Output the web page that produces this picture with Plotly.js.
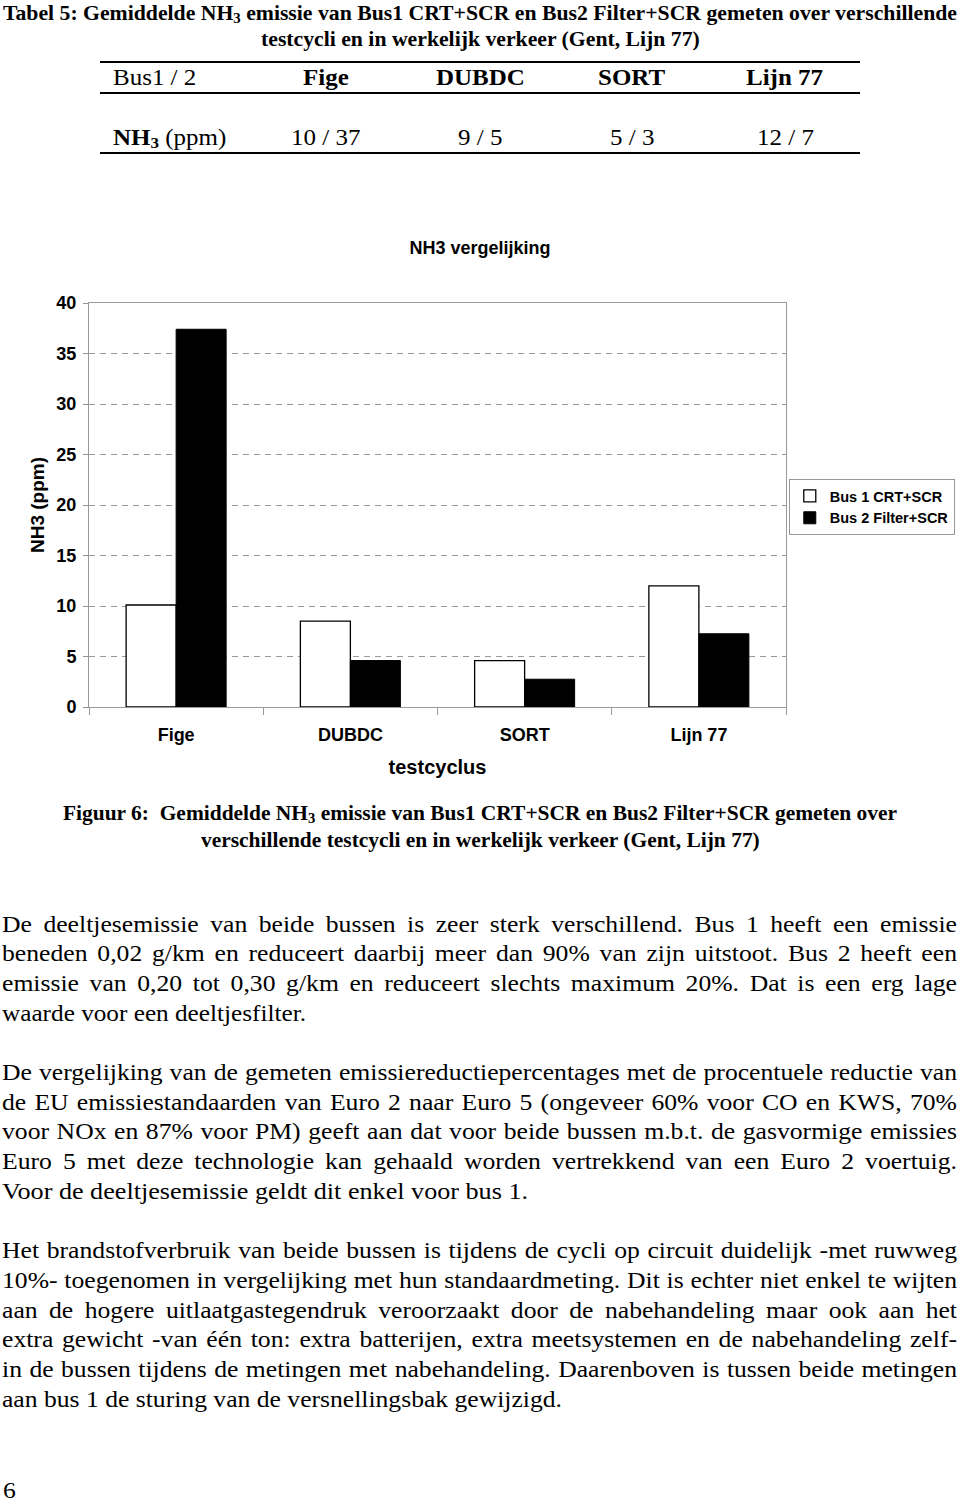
<!DOCTYPE html>
<html><head><meta charset="utf-8">
<script src="https://cdn.plot.ly/plotly-3.0.1.min.js"></script>
<style>
html,body{margin:0;padding:0;background:#fff;}
#page{position:relative;width:960px;height:1504px;overflow:hidden;background:#fff;}
.ln{position:absolute;white-space:nowrap;font-family:"Liberation Serif","Times New Roman",serif;color:#000;line-height:1;transform-origin:0 0;}
.sb{font-size:0.68em;position:relative;top:0.22em;}
.rule{position:absolute;height:2px;background:#000;}
#chart{position:absolute;left:0;top:215px;width:960px;height:580px;}
</style></head><body><div id="page"><div id="chart"></div></div>
<script>
// ---- chart data ----
const categories = ["Fige", "DUBDC", "SORT", "Lijn 77"];
const bus1 = [10.1, 8.5, 4.6, 12.0];
const bus2 = [37.4, 4.6, 2.75, 7.25];
const seriesNames = ["Bus 1 CRT+SCR", "Bus 2 Filter+SCR"];
const chartTitle = "NH3 vergelijking";
const xTitle = "testcyclus";
const yTitle = "NH3 (ppm)";
const yTicks = [0, 5, 10, 15, 20, 25, 30, 35, 40];
// ---- table data ----
const tableHeader = ["Bus1 / 2", "Fige", "DUBDC", "SORT", "Lijn 77"];
const tableRowLabel = "<b>NH<span class='sb'>3</span></b> (ppm)";
const tableValues = ["10 / 37", "9 / 5", "5 / 3", "12 / 7"];
// ---- document text ----
const tableTitle = ["Tabel 5: Gemiddelde NH<span class='sb'>3</span> emissie van Bus1 CRT+SCR en Bus2 Filter+SCR gemeten over verschillende",
  "testcycli en in werkelijk verkeer (Gent, Lijn 77)"];
const caption = ["Figuur 6:&nbsp; Gemiddelde NH<span class='sb'>3</span> emissie van Bus1 CRT+SCR en Bus2 Filter+SCR gemeten over",
  "verschillende testcycli en in werkelijk verkeer (Gent, Lijn 77)"];
const para1 = ["De deeltjesemissie van beide bussen is zeer sterk verschillend. Bus 1 heeft een emissie",
  "beneden 0,02 g/km en reduceert daarbij meer dan 90% van zijn uitstoot. Bus 2 heeft een",
  "emissie van 0,20 tot 0,30 g/km en reduceert slechts maximum 20%. Dat is een erg lage",
  "waarde voor een deeltjesfilter."];
const para2 = ["De vergelijking van de gemeten emissiereductiepercentages met de procentuele reductie van",
  "de EU emissiestandaarden van Euro 2 naar Euro 5 (ongeveer 60% voor CO en KWS, 70%",
  "voor NOx en 87% voor PM) geeft aan dat voor beide bussen m.b.t. de gasvormige emissies",
  "Euro 5 met deze technologie kan gehaald worden vertrekkend van een Euro 2 voertuig.",
  "Voor de deeltjesemissie geldt dit enkel voor bus 1."];
const para3 = ["Het brandstofverbruik van beide bussen is tijdens de cycli op circuit duidelijk -met ruwweg",
  "10%- toegenomen in vergelijking met hun standaardmeting. Dit is echter niet enkel te wijten",
  "aan de hogere uitlaatgastegendruk veroorzaakt door de nabehandeling maar ook aan het",
  "extra gewicht -van één ton: extra batterijen, extra meetsystemen en de nabehandeling zelf-",
  "in de bussen tijdens de metingen met nabehandeling. Daarenboven is tussen beide metingen",
  "aan bus 1 de sturing van de versnellingsbak gewijzigd."];
const pageNumber = "6";

const page = document.getElementById('page');
function addLine(html, o) {
  const d = document.createElement('div');
  d.className = 'ln';
  d.style.fontSize = o.F + 'px';
  if (o.bold) d.style.fontWeight = 'bold';
  d.innerHTML = html + '<span style="display:inline-block;width:0;height:0"></span>';
  page.appendChild(d);
  const nat = d.getBoundingClientRect().width;
  let S = o.S || 1.11;
  if (o.x1 !== undefined) S = (o.x1 - o.x) / nat;
  if (o.W !== undefined) {
    const n = (d.textContent.match(/ /g) || []).length;
    if (n > 0) d.style.wordSpacing = ((o.W / S - nat) / n) + 'px';
  }
  let left = o.x;
  if (o.cx !== undefined) left = o.cx - nat * S / 2;
  d.style.left = left + 'px';
  d.style.transform = 'scaleX(' + S + ')';
  const b = d.lastChild.offsetTop;
  d.style.top = (o.base - b) + 'px';
  return S;
}
function addRule(x0, x1, y) {
  const r = document.createElement('div');
  r.className = 'rule';
  r.style.left = x0 + 'px'; r.style.width = (x1 - x0) + 'px'; r.style.top = (y - 1) + 'px';
  page.appendChild(r);
}

// table title
const sT = addLine(tableTitle[0], {x: 3, x1: 957, base: 20, F: 20, bold: true});
addLine(tableTitle[1], {cx: 480, base: 46, F: 20, bold: true, S: sT});
// table
addRule(100, 860, 62); addRule(100, 860, 93); addRule(100, 860, 153);
const colCenters = [326, 480, 632, 785];
addLine(tableHeader[0], {x: 113, base: 85, F: 23, S: sT});
tableHeader.slice(1).forEach((t, i) => addLine(t, {cx: colCenters[i], base: 85, F: 23, bold: true, S: sT}));
addLine(tableRowLabel, {x: 113, base: 145, F: 23, S: sT});
tableValues.forEach((t, i) => addLine(t, {cx: colCenters[i], base: 145, F: 23, S: sT}));
// caption
const sC = addLine(caption[0], {x: 63, x1: 897, base: 820, F: 20, bold: true});
addLine(caption[1], {cx: 480, base: 847, F: 20, bold: true, S: sC});
// body paragraphs
const F = 23.5, pitch = 29.7;
const lastEnds = [306, 528, 562];
const paras = [para1, para2, para3];
const starts = [931.7, 1080, 1258.3];
const sList = paras.map((p, k) => addLine(p[p.length - 1], {x: 2, x1: lastEnds[k], base: starts[k] + pitch * (p.length - 1), F: F}));
const sB = sList.reduce((a, b) => a + b, 0) / sList.length;
paras.forEach((p, k) => p.slice(0, -1).forEach((t, i) => addLine(t, {x: 2, W: 955, base: starts[k] + pitch * i, F: F, S: sB})));
addLine(pageNumber, {x: 3, base: 1498, F: F, S: sB});

// ---- chart ----
const FONT = 'Arial, "Liberation Sans", Helvetica, sans-serif';
const traces = [
  {type: 'bar', name: seriesNames[0], x: categories, y: bus1,
   marker: {color: '#ffffff', line: {color: '#000000', width: 1.3}}},
  {type: 'bar', name: seriesNames[1], x: categories, y: bus2,
   marker: {color: '#000000', line: {color: '#000000', width: 1}}}
];
const layout = {
  width: 960, height: 580,
  margin: {l: 89, r: 174, t: 88, b: 88, autoexpand: false},
  paper_bgcolor: 'rgba(0,0,0,0)', plot_bgcolor: 'rgba(0,0,0,0)',
  font: {family: FONT, color: '#000', size: 18, weight: 'bold'},
  title: {text: chartTitle, font: {family: FONT, size: 18, weight: 'bold', color: '#000'},
          x: 0.5, xref: 'container', xanchor: 'center', y: 1 - 33 / 580, yref: 'container', yanchor: 'middle'},
  barmode: 'group', bargap: 0.426, bargroupgap: 0,
  xaxis: {type: 'category', showline: true, linecolor: '#999', linewidth: 1, mirror: true,
          ticks: 'outside', tickson: 'boundaries', ticklen: 7, tickcolor: '#999',
          tickfont: {family: FONT, size: 18, weight: 'bold', color: '#000'}, ticklabelstandoff: 11,
          showgrid: false, zeroline: false, fixedrange: true,
          title: {text: xTitle, font: {family: FONT, size: 20, weight: 'bold', color: '#000'}, standoff: 16}},
  yaxis: {range: [0, 40], tickvals: yTicks, showline: true, linecolor: '#999', linewidth: 1, mirror: true,
          ticks: 'outside', ticklen: 5, tickcolor: '#999',
          showgrid: true, gridcolor: '#9a9a9a', gridwidth: 1, griddash: '6px,5px', zeroline: false,
          tickfont: {family: FONT, size: 18, weight: 'bold', color: '#000'}, ticklabelstandoff: 3,
          fixedrange: true,
          title: {text: yTitle, font: {family: FONT, size: 19, weight: 'bold', color: '#000'}, standoff: 6}},
  legend: {x: 1.004, xanchor: 'left', y: (707 - 479) / 404, yanchor: 'top',
           bordercolor: '#999', borderwidth: 1, bgcolor: '#fff',
           font: {family: FONT, size: 14.5, weight: 'bold', color: '#000'}, itemwidth: 30, tracegroupgap: 0,
           traceorder: 'normal'},
  showlegend: true
};
Plotly.newPlot('chart', traces, layout, {staticPlot: true, displayModeBar: false});
</script></body></html>
